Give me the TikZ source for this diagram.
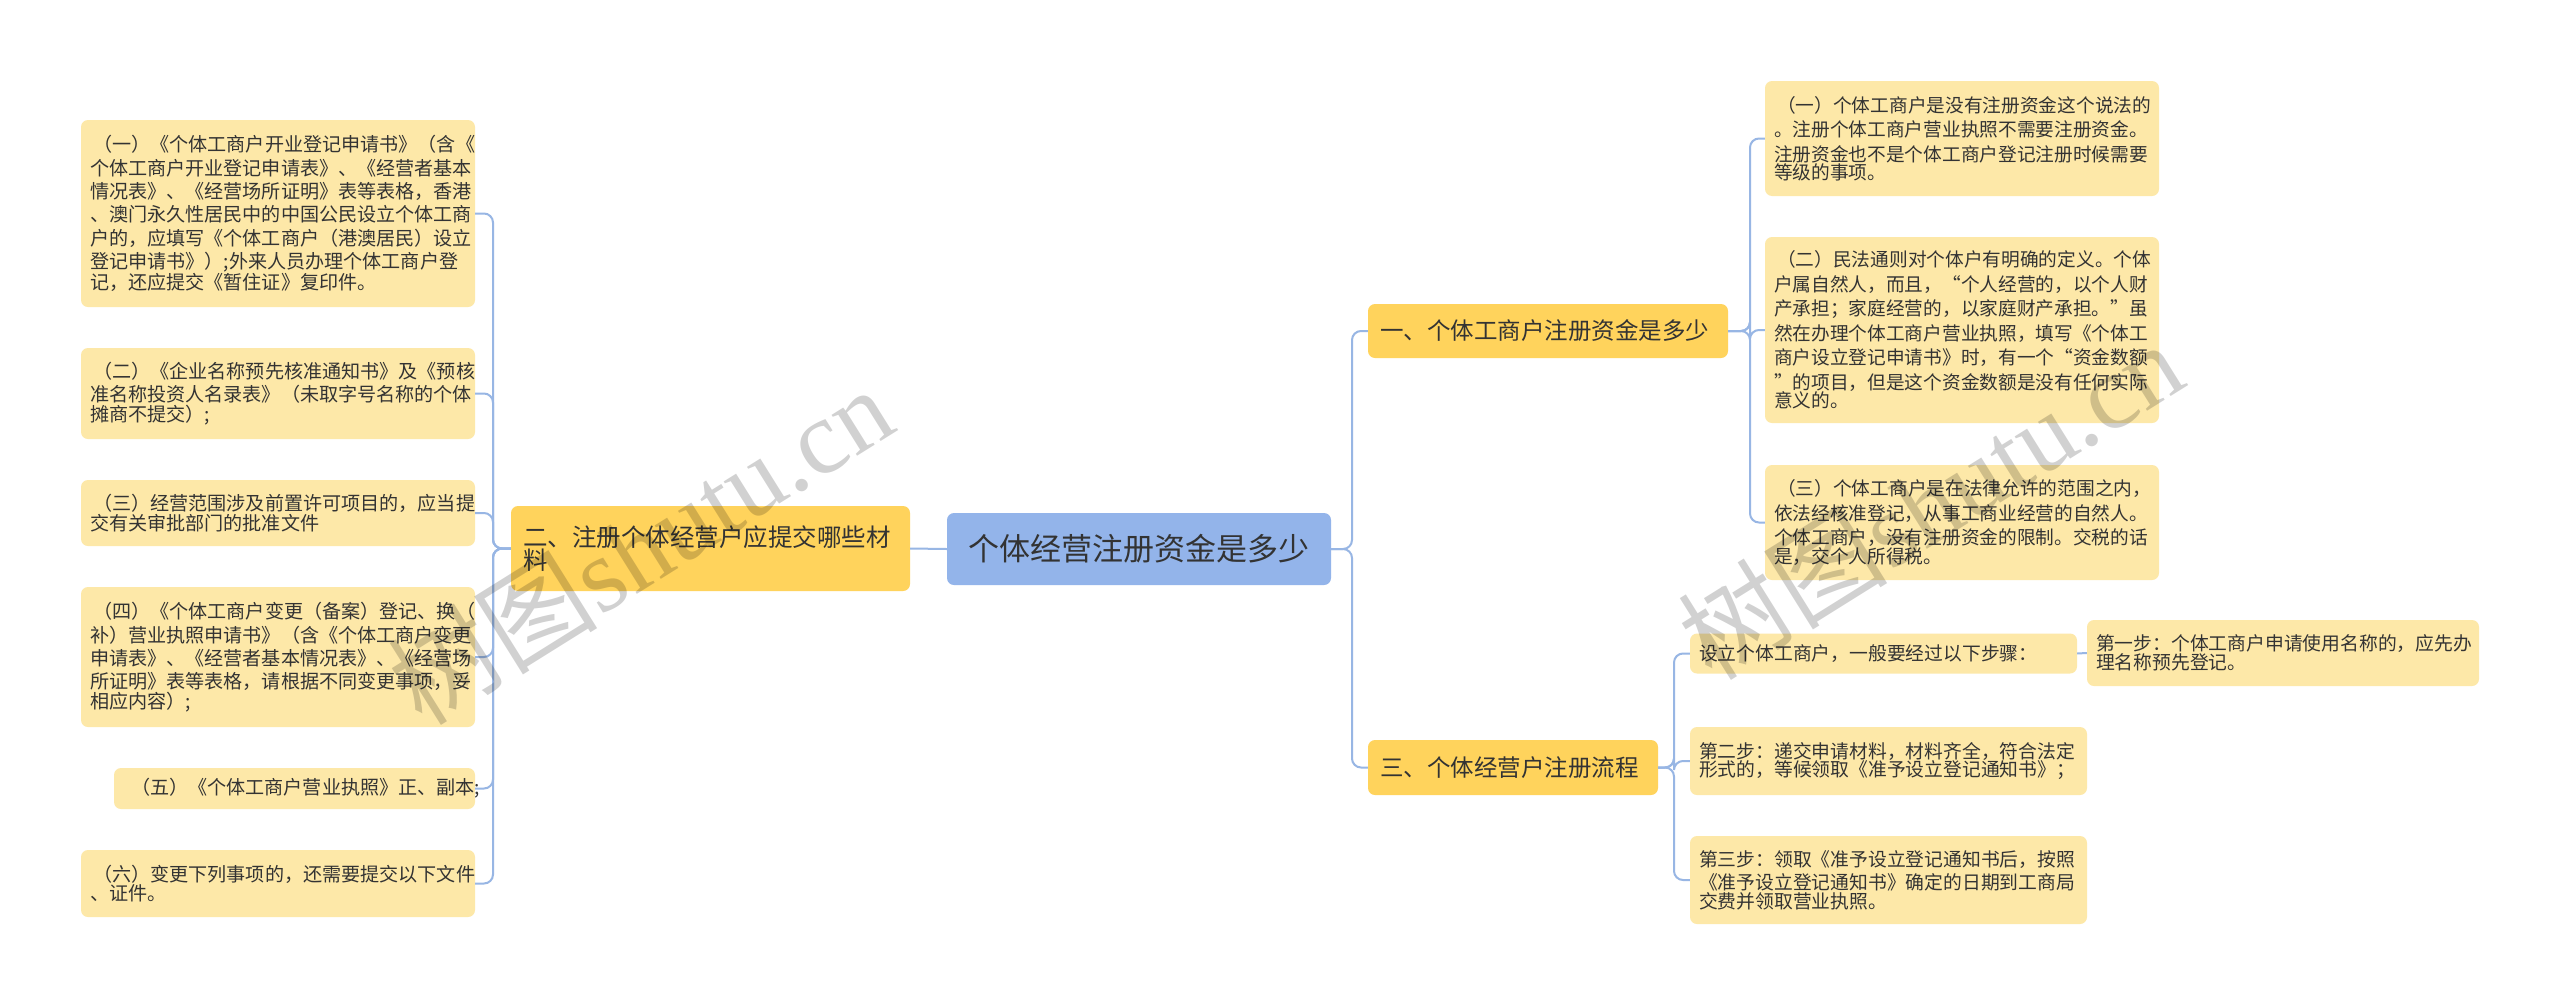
\documentclass[tikz,border=0pt]{standalone}
\usepackage{fontspec}
\setmainfont{Noto Sans CJK SC}
\newfontfamily\wmserif{Liberation Serif}
\begin{document}
\begin{tikzpicture}[x=1pt,y=-1pt,
  leafbox/.style={fill=leafc, rounded corners=7, inner ysep=0pt, align=left, text=txtc},
  branchbox/.style={fill=branchc, rounded corners=7, inner ysep=0pt, align=left, text=txtc},
  rootbox/.style={fill=rootc, rounded corners=7, inner ysep=0pt, align=center, text=txtc},
  link/.style={draw=linec, line width=2pt, rounded corners=9},
  wm/.style={text=black, text opacity=0.18, rotate=32, font=\fontsize{105}{105}\selectfont}
]
\definecolor{leafc}{HTML}{FDE8A8}
\definecolor{branchc}{HTML}{FFD35C}
\definecolor{rootc}{HTML}{93B4EA}
\definecolor{linec}{HTML}{98B6E4}
\definecolor{txtc}{HTML}{333333}
\useasboundingbox (0,0) rectangle (2560,1007);
\fill[white] (0,0) rectangle (2560,1007);

\newcommand{\bx}[7]{% name, cx, cy, w, h, pad, style
  \node[#7, minimum width=#4pt, minimum height=#5pt, text width=#4pt-2*#6pt, inner xsep=#6pt] (#1) at (#2,#3)}

% root and branches
\bx{root}{1139}{549}{384}{72}{8}{rootbox}{\fontsize{31}{36}\selectfont 个体经营注册资金是多少};
\bx{b2}{710.5}{548.5}{399}{85}{12}{branchbox}{\fontsize{24.5}{29}\selectfont 二、注册个体经营户应提交哪些材\\料};
\bx{b1}{1548}{331}{360}{54}{12}{branchbox}{\fontsize{23.5}{28}\selectfont 一、个体工商户注册资金是多少};
\bx{b3}{1513}{767.5}{290}{55}{12}{branchbox}{\fontsize{23.5}{28}\selectfont 三、个体经营户注册流程};

% left leaves
\bx{l1}{278}{213.5}{394}{187}{9}{leafbox}{\fontsize{19.1}{23.3}\selectfont
\,（一）《个体工商户开业登记申请书》（含《\\个体工商户开业登记申请表》、《经营者基本\\情况表》、《经营场所证明》表等表格，香港\\、澳门永久性居民中的中国公民设立个体工商\\户的，应填写《个体工商户（港澳居民）设立\\登记申请书》）;外来人员办理个体工商户登\\记，还应提交《暂住证》复印件。};
\bx{l2}{278}{393.5}{394}{91}{9}{leafbox}{\fontsize{19.1}{23.3}\selectfont
\,（二）《企业名称预先核准通知书》及《预核\\准名称投资人名录表》（未取字号名称的个体\\摊商不提交）;};
\bx{l3}{278}{513}{394}{66}{9}{leafbox}{\fontsize{19.1}{23.3}\selectfont
\,（三）经营范围涉及前置许可项目的，应当提\\交有关审批部门的批准文件};
\bx{l4}{278}{657}{394}{140}{9}{leafbox}{\fontsize{19.1}{23.3}\selectfont
\,（四）《个体工商户变更（备案）登记、换（\\补）营业执照申请书》（含《个体工商户变更\\申请表》、《经营者基本情况表》、《经营场\\所证明》表等表格，请根据不同变更事项，妥\\相应内容）;};
\bx{l5}{294.5}{788.5}{361}{41}{9}{leafbox}{\fontsize{19.1}{23.3}\selectfont
\hspace*{8pt}（五）《个体工商户营业执照》正、副本;};
\bx{l6}{278}{883.5}{394}{67}{9}{leafbox}{\fontsize{19.1}{23.3}\selectfont
\,（六）变更下列事项的，还需要提交以下文件\\、证件。};

% right leaves of b1
\bx{r1}{1962}{138.5}{394}{115}{9}{leafbox}{\fontsize{18.7}{24.5}\selectfont
\,（一）个体工商户是没有注册资金这个说法的\\。注册个体工商户营业执照不需要注册资金。\\注册资金也不是个体工商户登记注册时候需要\\等级的事项。};
\bx{r2}{1962}{330}{394}{186}{9}{leafbox}{\fontsize{18.7}{24.5}\selectfont
\,（二）民法通则对个体户有明确的定义。个体\\户属自然人，而且，“个人经营的，以个人财\\产承担；家庭经营的，以家庭财产承担。”虽\\然在办理个体工商户营业执照，填写《个体工\\商户设立登记申请书》时，有一个“资金数额\\”的项目，但是这个资金数额是没有任何实际\\意义的。};
\bx{r3}{1962}{522.5}{394}{115}{9}{leafbox}{\fontsize{18.7}{24.5}\selectfont
\,（三）个体工商户是在法律允许的范围之内，\\依法经核准登记，从事工商业经营的自然人。\\个体工商户，没有注册资金的限制。交税的话\\是，交个人所得税。};

% steps
\bx{sa}{1883.5}{653.5}{387}{40}{9}{leafbox}{\fontsize{18.8}{23.5}\selectfont 设立个体工商户，一般要经过以下步骤：};
\bx{s1}{2283}{653}{392}{66}{9}{leafbox}{\fontsize{18.8}{23.5}\selectfont 第一步：个体工商户申请使用名称的，应先办\\理名称预先登记。};
\bx{s2}{1888.5}{761}{397}{68}{9}{leafbox}{\fontsize{18.8}{23.5}\selectfont 第二步：递交申请材料，材料齐全，符合法定\\形式的，等候领取《准予设立登记通知书》；};
\bx{s3}{1888.5}{880}{397}{88}{9}{leafbox}{\fontsize{18.8}{23.5}\selectfont 第三步：领取《准予设立登记通知书后，按照\\《准予设立登记通知书》确定的日期到工商局\\交费并领取营业执照。};

% bracket coordinates
\coordinate (kl) at (493,549);
\coordinate (kr) at (1352,549);
\coordinate (k1) at (1750,331);
\coordinate (k3) at (1674,767);

\draw[link] (root.west) -- (b2.east);
\foreach \c in {l1,l2,l3,l4,l5,l6}
  \draw[link] (b2.west) -- (b2.west -| kl) |- (\c.east);
\foreach \c in {b1,b3}
  \draw[link] (root.east) -- (root.east -| kr) |- (\c.west);
\foreach \c in {r1,r2,r3}
  \draw[link] (b1.east) -- (b1.east -| k1) |- (\c.west);
\foreach \c in {sa,s2,s3}
  \draw[link] (b3.east) -- (b3.east -| k3) |- (\c.west);
\draw[link] (sa.east) -- (s1.west);

% watermarks (on top, translucent)
\node[wm] (wm1) at (640,545) {树图\wmserif shutu.cn};
\node[wm] (wm2) at (1930,500) {树图\wmserif shutu.cn};
\end{tikzpicture}
\end{document}
